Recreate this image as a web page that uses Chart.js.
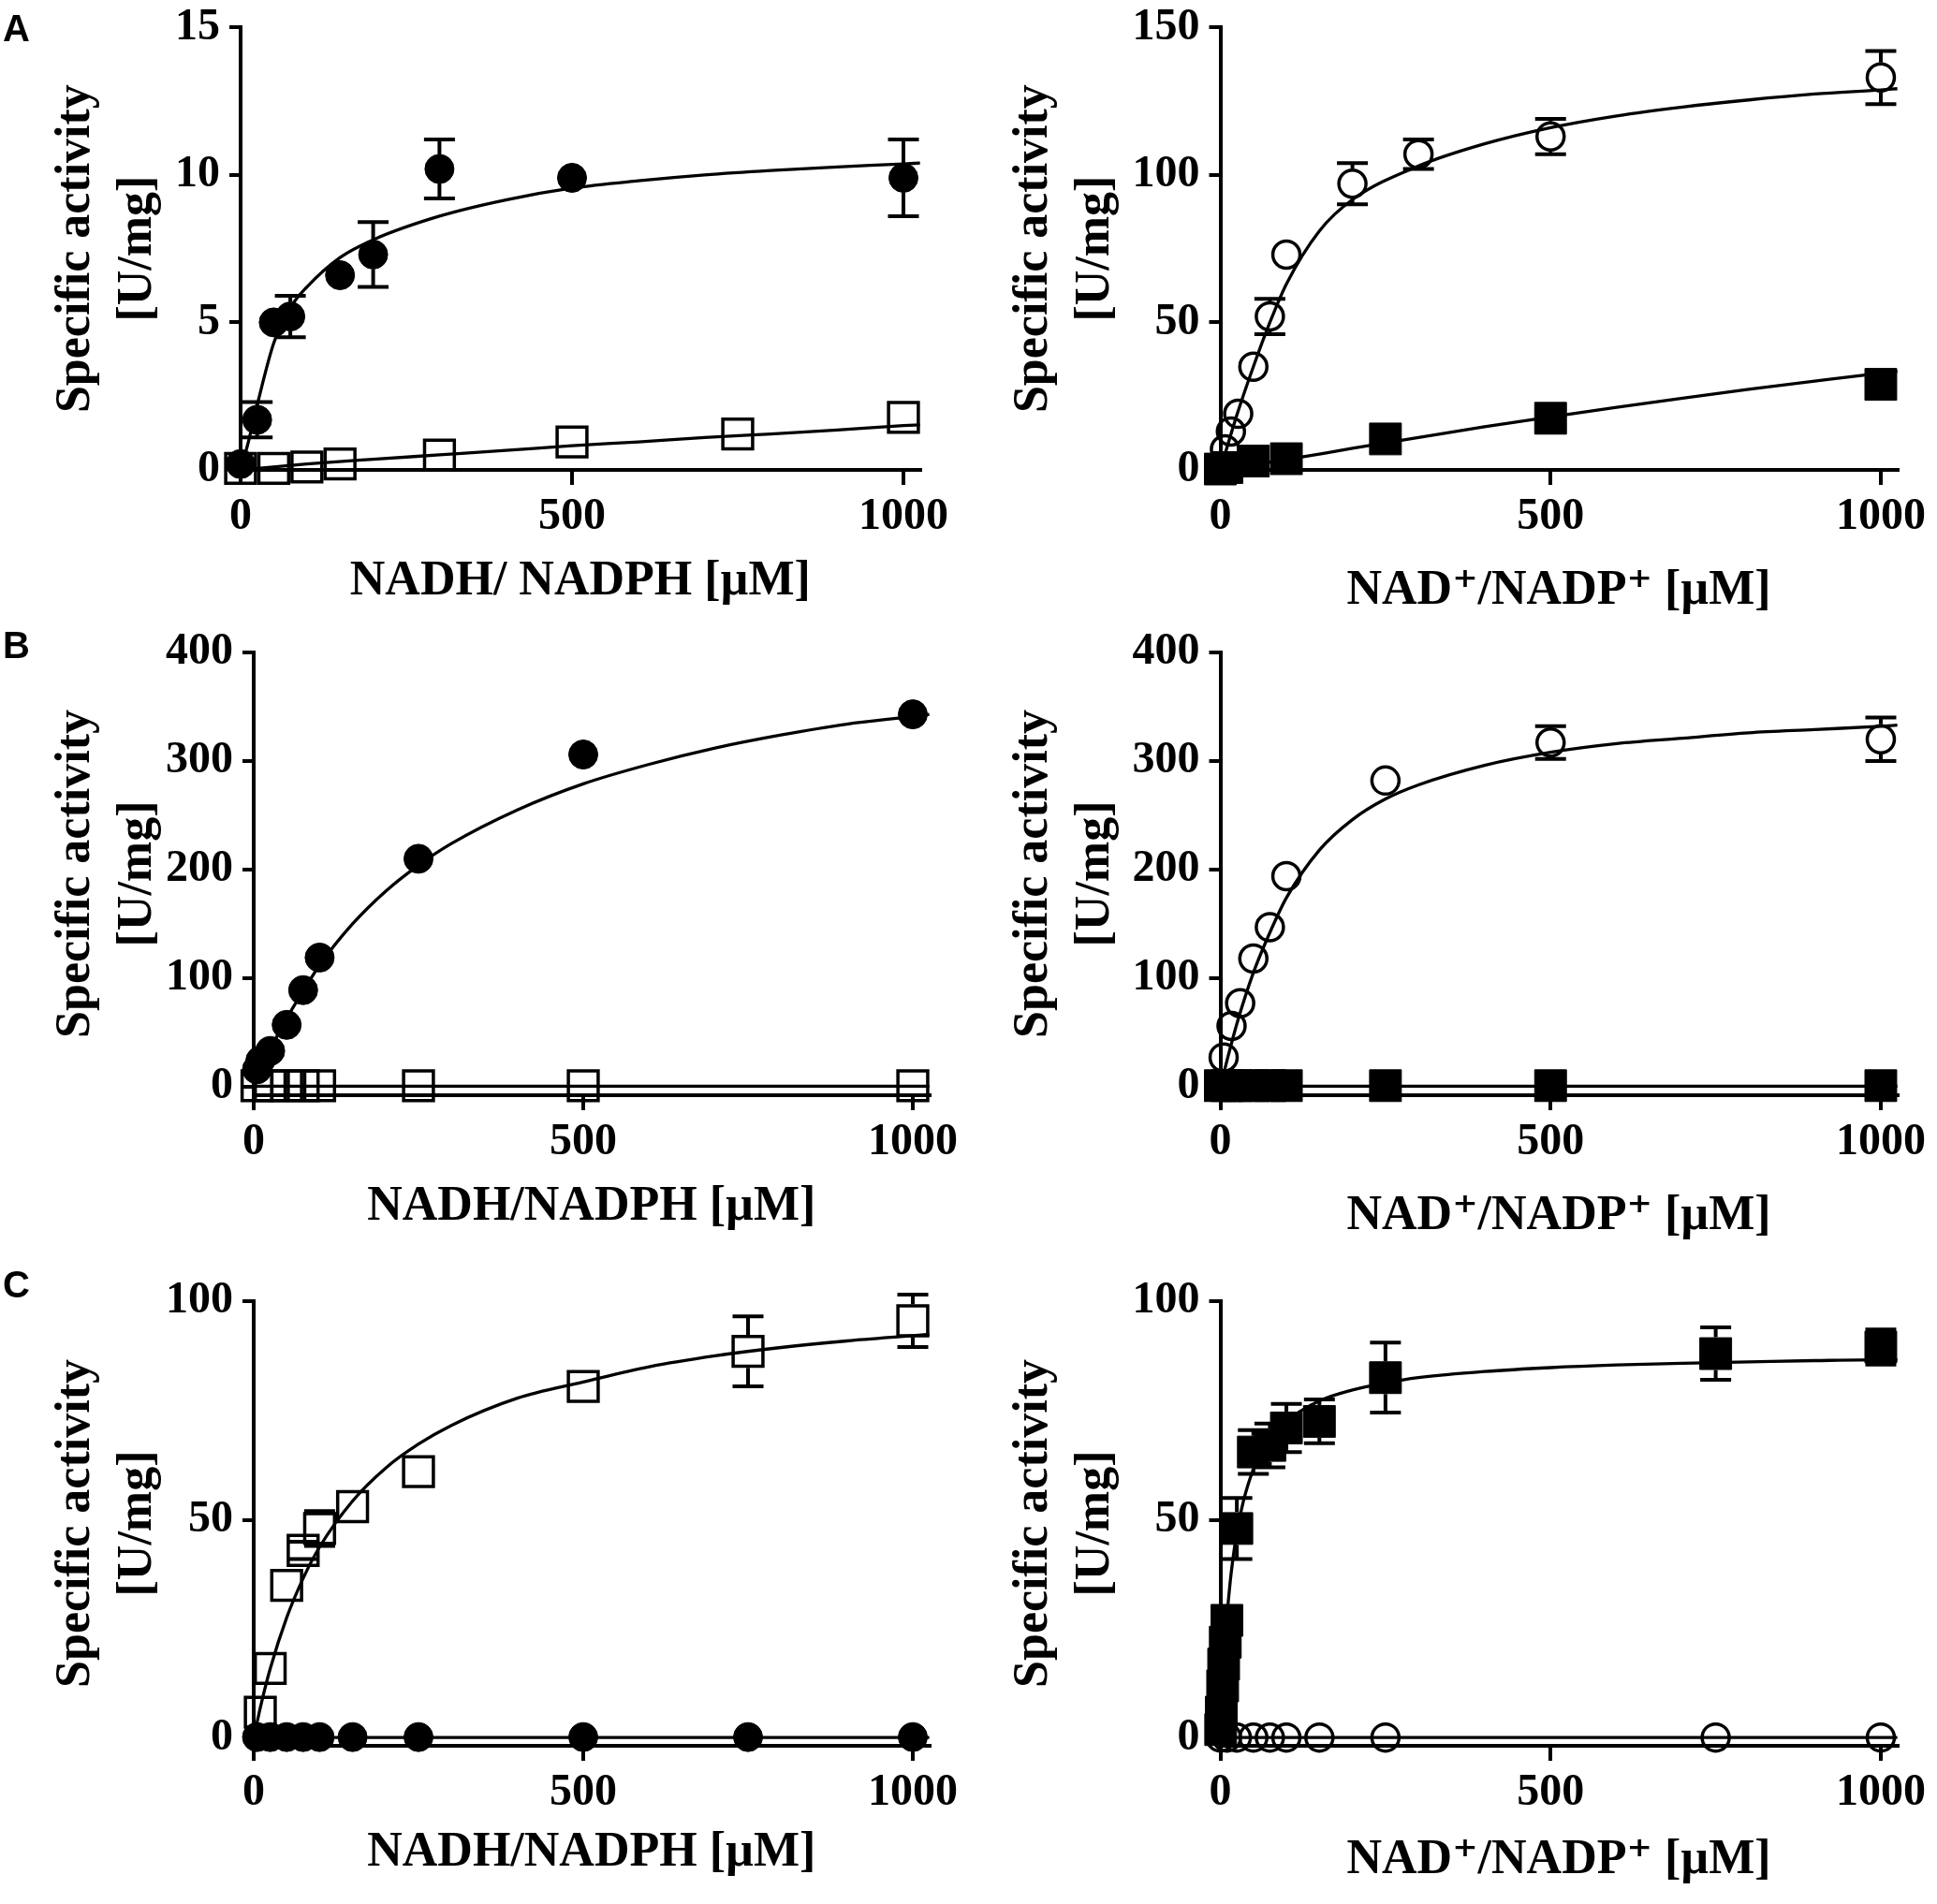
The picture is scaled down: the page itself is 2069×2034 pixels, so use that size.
<!DOCTYPE html>
<html>
<head>
<meta charset="utf-8">
<script src="https://cdn.jsdelivr.net/npm/chart.js@4.4.1/dist/chart.umd.min.js"></script>
<style>
html,body{margin:0;padding:0;background:#fff;}
#page{position:relative;width:2069px;height:2034px;overflow:hidden;background:#fff;}
.panel{position:absolute;}
.lab{position:absolute;font:bold 40px 'Liberation Sans',Arial,sans-serif;line-height:40px;color:#000;}
</style>
</head>
<body>
<div id="page">
  <div class="panel" id="pA1"><canvas id="cA1"></canvas></div>
  <div class="panel" id="pA2"><canvas id="cA2"></canvas></div>
  <div class="panel" id="pB1"><canvas id="cB1"></canvas></div>
  <div class="panel" id="pB2"><canvas id="cB2"></canvas></div>
  <div class="panel" id="pC1"><canvas id="cC1"></canvas></div>
  <div class="panel" id="pC2"><canvas id="cC2"></canvas></div>
  <div class="lab" style="left:3px;top:10px">A</div>
  <div class="lab" style="left:3px;top:669px">B</div>
  <div class="lab" style="left:3px;top:1352px">C</div>
</div>
<script>
// ---------- shared tick labels / titles ----------
const X_TICKS = [0, 500, 1000];
const Y_TICKS_A1 = [0, 5, 10, 15];
const Y_TICKS_A2 = [0, 50, 100, 150];
const Y_TICKS_B = [0, 100, 200, 300, 400];
const Y_TICKS_C = [0, 50, 100];
const Y_TITLE = ['Specific activity', '[U/mg]'];
const X_TITLE_A1 = 'NADH/ NADPH [µM]';
const X_TITLE_L = 'NADH/NADPH [µM]';
const X_TITLE_R = 'NAD⁺/NADP⁺ [µM]';

// ---------- Panel A (left): NADH filled circles, NADPH open squares ----------
const A1_NADH_X = [0, 25, 50, 75, 150, 200, 300, 500, 1000];
const A1_NADH_Y = [0.2, 1.7, 5.0, 5.2, 6.6, 7.3, 10.2, 9.9, 9.9];
const A1_NADH_ERR = [0, 0.6, 0, 0.7, 0, 1.1, 1.0, 0, 1.3];
const A1_NADPH_X = [0, 50, 100, 150, 300, 500, 750, 1000];
const A1_NADPH_Y = [0.05, 0.05, 0.1, 0.2, 0.5, 0.95, 1.22, 1.78];
const A1_FIT_NADH_X = [0, 10, 25, 50, 75, 100, 150, 200, 300, 400, 500, 600, 700, 800, 900, 1000, 1025];
const A1_FIT_NADH_Y = [0, 0.8, 2.2, 4.3, 5.5, 6.2, 7.2, 7.8, 8.6, 9.15, 9.55, 9.8, 10.0, 10.15, 10.27, 10.37, 10.4];
const A1_FIT_NADPH_X = [0, 100, 200, 300, 400, 500, 600, 700, 800, 900, 1000, 1025];
const A1_FIT_NADPH_Y = [0, 0.2, 0.36, 0.51, 0.66, 0.82, 0.95, 1.1, 1.22, 1.35, 1.5, 1.53];

// ---------- Panel A (right): NAD+ open circles, NADP+ filled squares ----------
const A2_NAD_X = [7, 16, 27, 50, 75, 100, 200, 300, 500, 1000];
const A2_NAD_Y = [7, 13, 19, 35, 52, 73, 97, 107, 113, 133];
const A2_NAD_ERR = [0, 0, 0, 0, 6, 0, 7, 5, 6, 9];
const A2_NADP_X = [0, 10, 50, 100, 250, 500, 1000];
const A2_NADP_Y = [0.3, 0.8, 3, 3.8, 10.5, 17.5, 29];
const A2_FIT_NAD_X = [0, 25, 50, 75, 100, 150, 200, 300, 400, 500, 600, 700, 800, 900, 1000, 1025];
const A2_FIT_NAD_Y = [0, 18.6, 35, 50, 63, 81, 91.6, 103, 110.5, 116, 120, 123, 125.4, 127.4, 128.8, 129.2];
const A2_FIT_NADP_X = [0, 100, 200, 300, 400, 500, 600, 700, 800, 900, 1000, 1025];
const A2_FIT_NADP_Y = [0, 3.5, 7.3, 11, 14.6, 18, 21.2, 24.3, 27.3, 30.1, 32.8, 33.4];

// ---------- Panel B (left) ----------
const B1_NADH_X = [5, 10, 25, 50, 75, 100, 250, 500, 1000];
const B1_NADH_Y = [16, 24, 33, 57, 89, 119, 210, 306, 343];
const B1_NADPH_X = [5, 25, 50, 75, 100, 250, 500, 1000];
const B1_NADPH_Y = [1, 1, 1, 1, 1, 1, 1, 1];
const B1_FIT_NADH_X = [0, 10, 25, 50, 75, 100, 150, 200, 250, 300, 400, 500, 600, 700, 800, 900, 1000, 1025];
const B1_FIT_NADH_Y = [3, 14, 34, 63, 88, 112, 150, 180, 204, 224, 255, 279, 297, 312, 324, 334, 341, 343];
const B1_FIT_NADPH_X = [0, 500, 1025];
const B1_FIT_NADPH_Y = [0.5, 0.5, 0.5];

// ---------- Panel B (right) ----------
const B2_NAD_X = [5, 17, 30, 50, 75, 100, 250, 500, 1000];
const B2_NAD_Y = [27, 56, 77, 118, 147, 194, 282, 317, 320];
const B2_NAD_ERR = [0, 0, 0, 0, 0, 0, 0, 15, 20];
const B2_NADP_X = [0, 10, 25, 50, 75, 100, 250, 500, 1000];
const B2_NADP_Y = [1, 1, 1, 1, 1, 1, 1, 1, 1];
const B2_FIT_NAD_X = [0, 10, 25, 50, 75, 100, 150, 200, 250, 300, 400, 500, 600, 700, 800, 900, 1000, 1025];
const B2_FIT_NAD_Y = [0, 24, 58, 105, 142, 174, 218, 246, 265, 278, 296, 308, 316, 321, 326, 329, 332, 333];
const B2_FIT_NADP_X = [0, 500, 1025];
const B2_FIT_NADP_Y = [0.5, 0.5, 0.5];

// ---------- Panel C (left) ----------
const C1_NADPH_X = [10, 25, 50, 75, 100, 150, 250, 500, 750, 1000];
const C1_NADPH_Y = [6, 16, 35, 43, 48, 53, 61, 80.5, 88.5, 95.5];
const C1_NADPH_ERR = [0, 0, 0, 2, 4, 0, 0, 0, 8, 6];
const C1_NADH_X = [5, 25, 50, 75, 100, 150, 250, 500, 750, 1000];
const C1_NADH_Y = [0.3, 0.3, 0.3, 0.3, 0.3, 0.3, 0.3, 0.3, 0.3, 0.3];
const C1_FIT_NADPH_X = [0, 10, 25, 50, 75, 100, 150, 200, 250, 300, 400, 500, 600, 700, 800, 900, 1000, 1025];
const C1_FIT_NADPH_Y = [0, 7, 15.9, 27.6, 36.6, 43.8, 54.3, 61.8, 67.3, 71.6, 77.8, 81.5, 85, 87.5, 89.4, 90.9, 92.1, 92.4];
const C1_FIT_NADH_X = [0, 500, 1025];
const C1_FIT_NADH_Y = [0.2, 0.2, 0.2];

// ---------- Panel C (right) ----------
const C2_NADP_X = [0.5, 1.5, 3.5, 5, 7.5, 10, 25, 50, 75, 100, 150, 250, 750, 1000];
const C2_NADP_Y = [2, 6, 12, 17, 22, 27, 48, 65.5, 67, 71, 72.5, 82.5, 88, 89.5];
const C2_NADP_ERR = [0, 0, 0, 0, 0, 0, 7, 5, 5, 5.5, 5, 8, 6, 4];
const C2_NAD_X = [0, 10, 25, 50, 75, 100, 150, 250, 750, 1000];
const C2_NAD_Y = [0.2, 0.2, 0.2, 0.2, 0.2, 0.2, 0.2, 0.2, 0.2, 0.2];
const C2_FIT_NADP_X = [0, 2, 5, 10, 15, 20, 25, 35, 50, 75, 100, 150, 200, 250, 300, 400, 500, 600, 700, 800, 900, 1000, 1025];
const C2_FIT_NADP_Y = [0, 7.4, 16.4, 27.7, 35.9, 42.1, 47.1, 54.3, 61.5, 68.4, 72.5, 77.2, 79.7, 81.3, 82.5, 83.9, 84.8, 85.4, 85.8, 86.1, 86.4, 86.6, 86.6];
const C2_FIT_NAD_X = [0, 500, 1025];
const C2_FIT_NAD_Y = [0.2, 0.2, 0.2];

// ---------- styling ----------
const SERIF = "'Liberation Serif','Times New Roman','DejaVu Serif',serif";
const MARK = {
  filledCircle: {pointStyle: 'circle', pointRadius: 15.5, pointBackgroundColor: '#000', pointBorderColor: '#000', pointBorderWidth: 1, edge: 15.5},
  openCircle:   {pointStyle: 'circle', pointRadius: 14.5, pointBackgroundColor: 'rgba(0,0,0,0)', pointBorderColor: '#000', pointBorderWidth: 3.5, edge: 16},
  openSquare:   {pointStyle: 'rect', pointRadius: 22.5, pointBackgroundColor: 'rgba(0,0,0,0)', pointBorderColor: '#000', pointBorderWidth: 3.5, edge: 17.5},
  filledSquare: {pointStyle: 'rect', pointRadius: 24, pointBackgroundColor: '#000', pointBorderColor: '#000', pointBorderWidth: 1, edge: 17.5}
};

function pts(xs, ys) { return xs.map((x, i) => ({x: x, y: ys[i]})); }
function scatterDS(label, xs, ys, style, errs) {
  return Object.assign({label: label, data: pts(xs, ys), showLine: false, order: 1, clip: false,
    errors: errs || null, pointHoverRadius: style.pointRadius}, style);
}
function fitDS(label, xs, ys) {
  return {label: label, data: pts(xs, ys), showLine: true, borderColor: '#000', borderWidth: 3.3,
    pointRadius: 0, pointHoverRadius: 0, cubicInterpolationMode: 'monotone', fill: false, order: 0, clip: false};
}

const errorBars = {
  id: 'errorBars',
  afterDatasetsDraw(chart) {
    const ctx = chart.ctx, xs = chart.scales.x, ys = chart.scales.y;
    chart.data.datasets.forEach(ds => {
      if (!ds.errors) return;
      ctx.save();
      ctx.strokeStyle = '#000';
      ctx.lineWidth = 4;
      ds.data.forEach((p, i) => {
        const e = ds.errors[i];
        if (!e) return;
        const px = xs.getPixelForValue(p.x);
        const yc = ys.getPixelForValue(p.y);
        const yt = ys.getPixelForValue(p.y + e);
        const yb = ys.getPixelForValue(p.y - e);
        const r = ds.edge, cap = 16.5;
        ctx.beginPath();
        if (yc - yt > r) { ctx.moveTo(px, yt); ctx.lineTo(px, yc - r); }
        ctx.moveTo(px - cap, yt); ctx.lineTo(px + cap, yt);
        if (yb - yc > r) { ctx.moveTo(px, yc + r); ctx.lineTo(px, yb); }
        ctx.moveTo(px - cap, yb); ctx.lineTo(px + cap, yb);
        ctx.stroke();
      });
      ctx.restore();
    });
  }
};

function makePanel(id, box, g, yMin, yMax, yTicks, xTitle, datasets) {
  const wrap = document.getElementById('p' + id);
  wrap.style.left = box.left + 'px';
  wrap.style.top = box.top + 'px';
  wrap.style.width = box.w + 'px';
  wrap.style.height = box.h + 'px';
  const xTickFont = {family: SERIF, size: 48, weight: 'bold', lineHeight: 1};
  const yTickFont = {family: SERIF, size: 48, weight: 'bold', lineHeight: 0.8};
  const xTitleFont = {family: SERIF, size: 52, weight: 'bold', lineHeight: 1.154};
  const yTitleFont = {family: SERIF, size: 52, weight: 'bold', lineHeight: 1.27};
  new Chart(document.getElementById('c' + id), {
    type: 'scatter',
    data: {datasets: datasets},
    plugins: [errorBars],
    options: {
      responsive: true, maintainAspectRatio: false, animation: false, events: [],
      layout: {padding: {left: g.padL, right: g.padR, top: g.padT, bottom: g.padB}},
      plugins: {legend: {display: false}, tooltip: {enabled: false}},
      scales: {
        x: {
          type: 'linear', position: 'bottom', min: 0, max: 1025,
          afterBuildTicks: s => { s.ticks = X_TICKS.map(v => ({value: v})); },
          afterFit: s => { s.height = g.xH; },
          border: {display: true, color: '#000', width: 4},
          grid: {display: true, drawOnChartArea: false, drawTicks: true, tickLength: 16, tickWidth: 4, tickColor: '#000', color: '#000', lineWidth: 4},
          ticks: {color: '#000', font: xTickFont, padding: 11, maxRotation: 0, minRotation: 0, autoSkip: false, callback: v => String(v)},
          title: {display: true, text: xTitle, color: '#000', font: xTitleFont, padding: {top: 0, bottom: g.tPadB}}
        },
        y: {
          type: 'linear', position: 'left', min: yMin, max: yMax,
          afterBuildTicks: s => { s.ticks = yTicks.map(v => ({value: v})); },
          afterFit: s => { s.width = g.yW; },
          border: {display: true, color: '#000', width: 4},
          grid: {display: true, drawOnChartArea: false, drawTicks: true, tickLength: 12, tickWidth: 4, tickColor: '#000', color: '#000', lineWidth: 4},
          ticks: {color: '#000', font: yTickFont, padding: 10, autoSkip: false, callback: v => String(v)},
          title: {display: true, text: Y_TITLE, color: '#000', font: yTitleFont, padding: {top: 0, bottom: 0}}
        }
      }
    }
  });
}

const GL = {padL: 49, padR: 40.3, xH: 165, tPadB: 15};
const GR = {padL: 37, padR: 41.8, xH: 165, tPadB: 5, yW: 231.5};

makePanel('A1', {left: 0, top: 0, w: 1035, h: 680},
  Object.assign({}, GL, {yW: 208, padR: 52.3, padT: 21, padB: 13}), 0, 15, Y_TICKS_A1, X_TITLE_A1, [
    fitDS('NADH fit', A1_FIT_NADH_X, A1_FIT_NADH_Y),
    fitDS('NADPH fit', A1_FIT_NADPH_X, A1_FIT_NADPH_Y),
    scatterDS('NADPH', A1_NADPH_X, A1_NADPH_Y, MARK.openSquare),
    scatterDS('NADH', A1_NADH_X, A1_NADH_Y, MARK.filledCircle, A1_NADH_ERR)
  ]);

makePanel('A2', {left: 1035, top: 0, w: 1034, h: 680},
  Object.assign({}, GR, {padT: 21, padB: 13}), 0, 150, Y_TICKS_A2, X_TITLE_R, [
    fitDS('NAD+ fit', A2_FIT_NAD_X, A2_FIT_NAD_Y),
    fitDS('NADP+ fit', A2_FIT_NADP_X, A2_FIT_NADP_Y),
    scatterDS('NADP+', A2_NADP_X, A2_NADP_Y, MARK.filledSquare),
    scatterDS('NAD+', A2_NAD_X, A2_NAD_Y, MARK.openCircle, A2_NAD_ERR)
  ]);

makePanel('B1', {left: 0, top: 660, w: 1035, h: 690},
  Object.assign({}, GL, {yW: 222, padT: 37, padB: 15}), -7.8, 400, Y_TICKS_B, X_TITLE_L, [
    fitDS('NADH fit', B1_FIT_NADH_X, B1_FIT_NADH_Y),
    fitDS('NADPH fit', B1_FIT_NADPH_X, B1_FIT_NADPH_Y),
    scatterDS('NADPH', B1_NADPH_X, B1_NADPH_Y, MARK.openSquare),
    scatterDS('NADH', B1_NADH_X, B1_NADH_Y, MARK.filledCircle)
  ]);

makePanel('B2', {left: 1035, top: 660, w: 1034, h: 690},
  Object.assign({}, GR, {padT: 37, padB: 15}), -7.8, 400, Y_TICKS_B, X_TITLE_R, [
    fitDS('NAD+ fit', B2_FIT_NAD_X, B2_FIT_NAD_Y),
    fitDS('NADP+ fit', B2_FIT_NADP_X, B2_FIT_NADP_Y),
    scatterDS('NADP+', B2_NADP_X, B2_NADP_Y, MARK.filledSquare),
    scatterDS('NAD+', B2_NAD_X, B2_NAD_Y, MARK.openCircle, B2_NAD_ERR)
  ]);

makePanel('C1', {left: 0, top: 1340, w: 1035, h: 694},
  Object.assign({}, GL, {yW: 222, padT: 50, padB: 4, tPadB: 20}), -1.7, 100, Y_TICKS_C, X_TITLE_L, [
    fitDS('NADPH fit', C1_FIT_NADPH_X, C1_FIT_NADPH_Y),
    fitDS('NADH fit', C1_FIT_NADH_X, C1_FIT_NADH_Y),
    scatterDS('NADH', C1_NADH_X, C1_NADH_Y, MARK.filledCircle),
    scatterDS('NADPH', C1_NADPH_X, C1_NADPH_Y, MARK.openSquare, C1_NADPH_ERR)
  ]);

makePanel('C2', {left: 1035, top: 1340, w: 1034, h: 694},
  Object.assign({}, GR, {padT: 50, padB: 4, tPadB: 12}), -1.7, 100, Y_TICKS_C, X_TITLE_R, [
    fitDS('NADP+ fit', C2_FIT_NADP_X, C2_FIT_NADP_Y),
    fitDS('NAD+ fit', C2_FIT_NAD_X, C2_FIT_NAD_Y),
    scatterDS('NAD+', C2_NAD_X, C2_NAD_Y, MARK.openCircle),
    scatterDS('NADP+', C2_NADP_X, C2_NADP_Y, MARK.filledSquare, C2_NADP_ERR)
  ]);
</script>
</body>
</html>
